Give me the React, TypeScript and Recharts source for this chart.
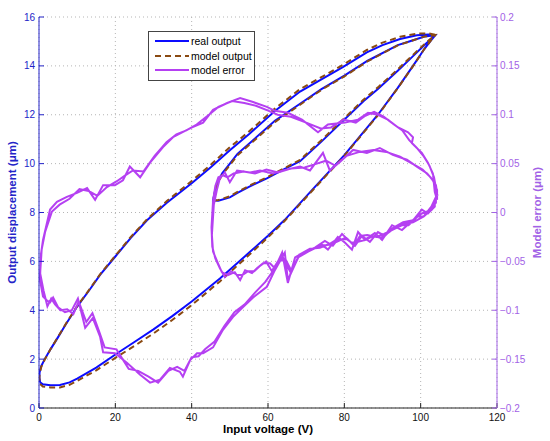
import React from 'react';
import { ComposedChart, Line, XAxis, YAxis, CartesianGrid, Legend, Label } from 'recharts';

const FONT = '"Liberation Sans", Arial, Helvetica, sans-serif';
const BLUE = '#0c0cff';
const BROWN = '#8a4a12';
const VIOLET = '#b540f2';
const AXIS_BLUE = '#2323c8';
const AXIS_VIOLET = '#a262e6';

const xTicks = [0, 20, 40, 60, 80, 100, 120];
const leftTicks = [0, 2, 4, 6, 8, 10, 12, 14, 16];
const rightTicks = [-0.2, -0.15, -0.1, -0.05, 0, 0.05, 0.1, 0.15, 0.2];

// real output, [voltage, displacement], in the order the loop is driven
const realUp = [[0.3, 1.05], [1, 0.97], [3, 0.93], [5.5, 0.94], [8, 1.05], [10, 1.2], [15, 1.65], [20.4, 2.23], [25, 2.7], [30, 3.22], [35, 3.77], [40, 4.36], [47.4, 5.3], [55, 6.35], [60, 7.05], [64.4, 7.7], [72, 9.0], [80, 10.35], [88.8, 12.0], [94, 13.1], [98, 14.0], [101, 14.7], [103, 15.1], [103.8, 15.25]];
const realDownMinor = [[103.8, 15.25], [101, 15.2], [97, 15.0], [94, 14.85], [86, 14.2], [80, 13.6], [74, 13.05], [68.4, 12.45], [61.8, 11.75], [56, 10.95], [52, 10.4], [49.5, 9.9], [48, 9.6], [47, 9.3], [46.2, 8.95], [45.6, 8.5]];
const realUpMinor = [[45.6, 8.5], [47, 8.48], [50, 8.62], [52, 8.8], [55, 9.05], [59.7, 9.4], [64, 9.75], [68.4, 10.1], [74, 10.9], [80, 11.8], [85, 12.55], [88.8, 13.05], [94, 13.8], [98, 14.4], [101, 14.85], [103.8, 15.25]];
const realDown = [[103.8, 15.25], [102, 15.28], [99, 15.25], [94.6, 15.1], [90, 14.85], [85.9, 14.55], [79.6, 13.95], [74, 13.45], [68.4, 12.95], [61.8, 12.15], [55, 11.2], [50, 10.55], [45, 9.85], [40, 9.2], [33.5, 8.4], [28.3, 7.68], [24, 6.95], [20, 6.2], [16, 5.45], [13.4, 4.87], [10, 4.15], [7, 3.42], [5, 2.9], [3, 2.4], [1.5, 2.0], [0.6, 1.72], [0.15, 1.45], [0.1, 1.25], [0.3, 1.05]];

// model output
const modelUp = [[0.3, 0.98], [1, 0.88], [3, 0.84], [5.5, 0.84], [8, 0.95], [10, 1.11], [15, 1.54], [20.4, 2.09], [25, 2.54], [30, 3.05], [35, 3.61], [40, 4.21], [47.4, 5.18], [55, 6.26], [60, 6.98], [64.4, 7.66], [72, 8.96], [80, 10.32], [88.8, 11.98], [94, 13.09], [98, 13.99], [101, 14.7], [103, 15.1], [103.8, 15.26]];
const modelDownMinor = [[103.8, 15.26], [101, 15.2], [97, 14.99], [94, 14.84], [86, 14.18], [80, 13.57], [74, 13.02], [68.4, 12.41], [61.8, 11.7], [56, 10.89], [52, 10.34], [49.5, 9.84], [48, 9.54], [47, 9.25], [46.2, 8.9], [45.6, 8.46]];
const modelUpMinor = [[45.6, 8.48], [47, 8.51], [50, 8.66], [52, 8.84], [55, 9.09], [59.7, 9.44], [64, 9.79], [68.4, 10.15], [74, 10.96], [80, 11.86], [85, 12.61], [88.8, 13.12], [94, 13.86], [98, 14.45], [101, 14.89], [103.8, 15.27]];
const modelDown = [[103.8, 15.27], [102, 15.33], [99, 15.32], [94.6, 15.19], [90, 14.95], [85.9, 14.65], [79.6, 14.04], [74, 13.54], [68.4, 13.05], [61.8, 12.25], [55, 11.31], [50, 10.67], [45, 9.95], [40, 9.29], [33.5, 8.47], [28.3, 7.72], [24, 6.99], [20, 6.23], [16, 5.47], [13.4, 4.89], [10, 4.17], [7, 3.44], [5, 2.91], [3, 2.4], [1.5, 1.98], [0.6, 1.68], [0.15, 1.4], [0.1, 1.19], [0.3, 0.98]];

// model error, [voltage, error]; the loop is run twice
const errUp = [[0.26, -0.069], [1.05, -0.086], [2.1, -0.09], [2.9, -0.092], [3.7, -0.087], [5.0, -0.097], [6.8, -0.102], [8.6, -0.1], [10.2, -0.088], [12.1, -0.118], [14.1, -0.108], [16.0, -0.127], [16.8, -0.143], [19.9, -0.144], [23.1, -0.154], [26.5, -0.166], [29.1, -0.174], [31.7, -0.171], [34.3, -0.159], [36.9, -0.163], [37.7, -0.168], [39.6, -0.151], [41.4, -0.144], [43.0, -0.144], [45.6, -0.138], [48.2, -0.12], [50.8, -0.107], [53.4, -0.097], [56.1, -0.087], [59.7, -0.076], [61.8, -0.059], [64.4, -0.041], [65.2, -0.069], [67.9, -0.046], [70.5, -0.04], [74.1, -0.033], [75.7, -0.038], [78.3, -0.025], [80.2, -0.031], [82.0, -0.038], [83.6, -0.02], [85.4, -0.028], [88.0, -0.021], [89.9, -0.028], [92.5, -0.013], [95.1, -0.018], [98.5, -0.006], [100.3, -0.001], [103.0, 0.003], [103.7, 0.013]];
const errDownMinor = [[103.7, 0.006], [101.9, -0.001], [100.3, 0.003], [98.0, -0.008], [95.4, -0.01], [92.7, -0.016], [90.6, -0.024], [88.8, -0.02], [86.7, -0.03], [84.6, -0.024], [82.8, -0.034], [81.0, -0.028], [79.4, -0.022], [77.0, -0.034], [74.9, -0.029], [72.3, -0.036], [71.0, -0.038], [69.2, -0.041], [67.1, -0.046], [65.2, -0.072], [63.7, -0.041], [61.8, -0.057], [60.5, -0.052], [58.7, -0.052], [57.1, -0.057], [55.8, -0.062], [54.0, -0.059], [52.7, -0.069], [51.3, -0.061], [49.5, -0.064], [47.9, -0.061], [46.9, -0.052], [45.6, -0.04]];
const errUpMinor = [[45.3, -0.023], [45.8, 0.008], [46.6, 0.023], [47.4, 0.035], [48.7, 0.041], [50.0, 0.031], [51.9, 0.043], [55.3, 0.041], [57.9, 0.043], [61.3, 0.04], [63.9, 0.043], [68.4, 0.047], [71.0, 0.043], [74.4, 0.061], [76.2, 0.043], [78.9, 0.052], [82.3, 0.064], [85.9, 0.061], [89.3, 0.066], [92.7, 0.059], [96.4, 0.054], [99.0, 0.047], [101.7, 0.04], [103.2, 0.033], [104.3, 0.023], [104.3, 0.013]];
const errDown = [[103.7, 0.021], [103.2, 0.04], [101.9, 0.051], [100.3, 0.061], [97.7, 0.071], [98.0, 0.077], [96.7, 0.082], [94.1, 0.087], [91.4, 0.095], [88.8, 0.1], [86.2, 0.102], [83.6, 0.095], [80.2, 0.092], [75.7, 0.09], [73.1, 0.082], [68.9, 0.095], [65.2, 0.102], [61.8, 0.104], [59.7, 0.108], [56.1, 0.113], [52.7, 0.117], [49.3, 0.112], [45.6, 0.105], [43.0, 0.092], [40.1, 0.087], [37.5, 0.082], [35.1, 0.077], [32.5, 0.067], [29.1, 0.051], [26.5, 0.036], [23.8, 0.047], [22.0, 0.033], [19.9, 0.028], [16.8, 0.028], [14.7, 0.013], [12.6, 0.025], [9.96, 0.02], [7.3, 0.016], [4.7, 0.011], [2.9, 0.003], [1.05, -0.028], [0.5, -0.043], [0.26, -0.069]];
const errUp2 = [[0.3, -0.062], [1.2, -0.08], [2.2, -0.096], [3.2, -0.088], [4.2, -0.094], [5.6, -0.1], [7.4, -0.099], [9.0, -0.104], [10.4, -0.091], [12.4, -0.112], [14.0, -0.103], [15.7, -0.121], [17.2, -0.138], [20.3, -0.14], [23.5, -0.16], [26.0, -0.162], [28.7, -0.168], [31.2, -0.174], [33.9, -0.162], [36.2, -0.158], [38.1, -0.162], [40.0, -0.148], [41.8, -0.147], [43.5, -0.14], [46.0, -0.132], [48.6, -0.116], [51.2, -0.102], [53.9, -0.094], [56.6, -0.082], [59.3, -0.071], [62.2, -0.055], [63.9, -0.046], [66.0, -0.062], [68.3, -0.043], [71.0, -0.037], [73.6, -0.036], [76.2, -0.032], [77.8, -0.028], [80.8, -0.027], [82.5, -0.034], [84.1, -0.024], [86.0, -0.023], [88.4, -0.025], [90.4, -0.022], [93.0, -0.017], [95.6, -0.012], [98.0, -0.01], [100.8, -0.004], [102.8, 0.006], [104.0, 0.016]];
const errDownMinor2 = [[104.0, 0.01], [102.5, 0.002], [100.8, -0.004], [99.2, -0.004], [96.8, -0.013], [94.0, -0.013], [91.8, -0.02], [89.6, -0.026], [87.6, -0.024], [85.6, -0.028], [83.6, -0.03], [81.9, -0.031], [80.2, -0.026], [78.0, -0.03], [76.0, -0.033], [73.5, -0.034], [70.3, -0.04], [68.2, -0.043], [66.2, -0.06], [64.6, -0.048], [62.6, -0.05], [61.0, -0.06], [59.5, -0.05], [57.8, -0.055], [56.4, -0.06], [54.8, -0.06], [53.3, -0.064], [52.0, -0.064], [50.3, -0.06], [48.7, -0.066], [47.4, -0.057], [46.2, -0.047], [45.4, -0.035]];
const errUpMinor2 = [[45.2, -0.015], [45.6, 0.012], [46.2, 0.027], [47.0, 0.036], [48.2, 0.038], [49.4, 0.036], [51.0, 0.04], [53.6, 0.042], [56.6, 0.04], [59.6, 0.044], [62.6, 0.041], [66.0, 0.045], [69.6, 0.046], [72.8, 0.05], [75.2, 0.053], [77.6, 0.048], [80.6, 0.058], [84.0, 0.062], [87.6, 0.064], [91.0, 0.062], [94.6, 0.057], [97.8, 0.05], [100.5, 0.044], [102.6, 0.036], [104.0, 0.028], [104.4, 0.017]];
const errDown2 = [[104.0, 0.025], [103.5, 0.036], [102.3, 0.048], [100.7, 0.058], [99.0, 0.066], [97.0, 0.074], [95.2, 0.084], [93.0, 0.09], [90.3, 0.098], [87.8, 0.103], [85.5, 0.099], [83.0, 0.092], [79.8, 0.095], [76.5, 0.087], [73.8, 0.086], [70.0, 0.092], [66.0, 0.098], [62.5, 0.1], [60.2, 0.104], [57.0, 0.109], [53.8, 0.112], [50.6, 0.114], [47.0, 0.108], [44.2, 0.099], [41.3, 0.09], [38.6, 0.084], [36.0, 0.08], [33.4, 0.072], [30.3, 0.058], [27.4, 0.042], [24.6, 0.043], [22.6, 0.038], [20.4, 0.032], [17.8, 0.026], [15.3, 0.017], [13.0, 0.022], [10.6, 0.024], [8.0, 0.014], [5.4, 0.008], [3.4, 0.001], [1.6, -0.02], [0.7, -0.038], [0.3, -0.062]];

const toPts = (arr: number[][], key: string) => arr.map(([v, val]) => ({ v, [key]: val }));
const realOutput = toPts([...realUp, ...realDownMinor, ...realUpMinor, ...realDown], 'y');
const modelOutput = toPts([...modelUp, ...modelDownMinor, ...modelUpMinor, ...modelDown], 'y');
const modelError = toPts([
    ...errUp, ...errDownMinor, ...errUpMinor, ...errDown,
    ...errUp2, ...errDownMinor2, ...errUpMinor2, ...errDown2,
], 'e');

const legendItems = [
    { name: 'real output', color: BLUE, dash: undefined },
    { name: 'model output', color: BROWN, dash: '6 4' },
    { name: 'model error', color: VIOLET, dash: undefined },
];

function LegendBox() {
    return (
        <div style={{ width: 105, height: 46, border: '1px solid #444', background: '#fff', paddingTop: 2, boxSizing: 'content-box', fontSize: 10.5, fontFamily: FONT, color: '#000' }}>
            {legendItems.map(it => (
                <div key={it.name} style={{ display: 'flex', alignItems: 'center', height: 14.5, paddingLeft: 6, lineHeight: '14px' }}>
                    <svg width={34} height={6} style={{ display: 'block' }}>
                        <line x1={0} y1={3} x2={34} y2={3} stroke={it.color} strokeWidth={2.2} strokeDasharray={it.dash} />
                    </svg>
                    <span style={{ marginLeft: 2 }}>{it.name}</span>
                </div>
            ))}
        </div>
    );
}

const axisTitle = (text: string, color: string, rotate: boolean, dx: number, dy: number) => (props: any) => {
    const vb = props.viewBox;
    const cx = rotate ? vb.x + dx : vb.x + vb.width / 2;
    const cy = rotate ? vb.y + vb.height / 2 : vb.y + dy;
    return (
        <text x={cx} y={cy} transform={rotate ? `rotate(-90 ${cx} ${cy})` : undefined} textAnchor="middle"
            dominantBaseline="central" fontSize={11.5} fontWeight="bold" fill={color} fontFamily={FONT}>
            {text}
        </text>
    );
};

const fmtRight = (v: number) => (v < 0 ? '\u2212' + String(-v) : String(v));

export default function App() {
    return (
        <div style={{ position: 'absolute', left: 0, top: 0, width: 550, height: 441, background: '#fff' }}>
            <ComposedChart width={550} height={441} margin={{ top: 17, right: 0, bottom: 0, left: 0 }} style={{ fontFamily: FONT }}>
                <CartesianGrid xAxisId="bottom" yAxisId="left" stroke="#b5b5b5" strokeDasharray="1 3" />
                <XAxis xAxisId="bottom" type="number" dataKey="v" domain={[0, 120]} ticks={xTicks} height={33}
                    allowDataOverflow stroke="#222" tick={{ fill: '#111', fontSize: 10 }} tickSize={-5} tickMargin={11}>
                    <Label content={axisTitle('Input voltage (V)', '#000', false, 0, 21)} />
                </XAxis>
                <XAxis xAxisId="top" orientation="top" type="number" dataKey="v" domain={[0, 120]} ticks={xTicks} height={0}
                    allowDataOverflow stroke="#222" tickFormatter={() => ''} tickSize={-5} />
                <YAxis yAxisId="left" type="number" domain={[0, 16]} ticks={leftTicks} width={39} allowDataOverflow
                    stroke={AXIS_BLUE} tick={{ fill: AXIS_BLUE, fontSize: 10 }} tickSize={-5} tickMargin={9}>
                    <Label content={axisTitle('Output displacement (\u03bcm)', AXIS_BLUE, true, 12, 0)} />
                </YAxis>
                <YAxis yAxisId="right" orientation="right" type="number" domain={[-0.2, 0.2]} ticks={rightTicks} width={53}
                    allowDataOverflow stroke={AXIS_VIOLET} tick={{ fill: AXIS_VIOLET, fontSize: 10 }} tickSize={-5} tickMargin={8}
                    tickFormatter={fmtRight}>
                    <Label content={axisTitle('Model error (\u03bcm)', AXIS_VIOLET, true, 40, 0)} />
                </YAxis>
                <Line xAxisId="bottom" yAxisId="left" data={realOutput} dataKey="y" type="linear" stroke={BLUE}
                    strokeWidth={2} dot={false} isAnimationActive={false} />
                <Line xAxisId="bottom" yAxisId="left" data={modelOutput} dataKey="y" type="linear" stroke={BROWN}
                    strokeWidth={2} strokeDasharray="6 4" dot={false} isAnimationActive={false} />
                <Line xAxisId="bottom" yAxisId="right" data={modelError} dataKey="e" type="linear" stroke={VIOLET}
                    strokeWidth={2} dot={false} isAnimationActive={false} />
                <Legend layout="vertical" align="center" verticalAlign="middle" content={() => <LegendBox />}
                    wrapperStyle={{ left: 148, top: 31, width: 'auto' }} />
            </ComposedChart>
        </div>
    );
}
